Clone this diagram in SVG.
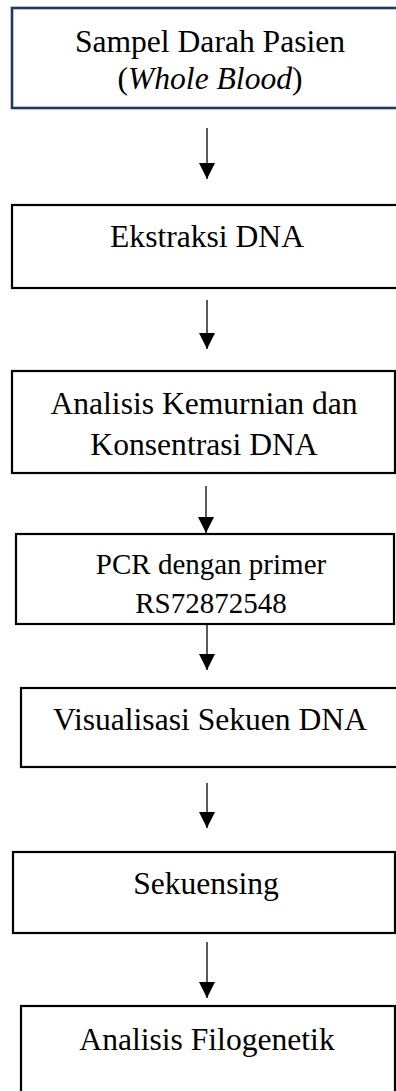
<svg xmlns="http://www.w3.org/2000/svg" width="396" height="1091" viewBox="0 0 396 1091">
  <defs>
    <style>
      .box { fill: #ffffff; stroke: #000000; stroke-width: 2.2; }
      .box-navy { fill: #ffffff; stroke: #1f3864; stroke-width: 2.6; }
      .lbl { font-family: "Liberation Serif", "Times New Roman", serif; font-size: 31.6px; fill: #000000; text-anchor: middle; }
      .lbl-sm { font-size: 29px; }
      .edge { stroke: #000000; stroke-width: 1.3; fill: none; marker-end: url(#head); }
    </style>
    <marker id="head" markerWidth="16" markerHeight="16" refX="16" refY="8" orient="auto" markerUnits="userSpaceOnUse" viewBox="0 0 16 16">
      <path d="M0,0 L16,8 L0,16 Z" fill="#000000"/>
    </marker>
  </defs>

  <rect width="396" height="1091" fill="#ffffff"/>

  <!-- process steps -->
  <g id="node-sampel">
    <rect class="box-navy" x="12" y="8" width="396" height="100"/>
    <text class="lbl" x="210" y="52">Sampel Darah Pasien</text>
    <text class="lbl" x="210" y="89">(<tspan font-style="italic">Whole Blood</tspan>)</text>
  </g>

  <g id="node-ekstraksi">
    <rect class="box" x="12" y="205" width="392" height="83"/>
    <text class="lbl" x="207" y="247">Ekstraksi DNA</text>
  </g>

  <g id="node-kemurnian">
    <rect class="box" x="12" y="371" width="383" height="102"/>
    <text class="lbl" x="204" y="414">Analisis Kemurnian dan</text>
    <text class="lbl" x="204" y="455">Konsentrasi DNA</text>
  </g>

  <g id="node-pcr">
    <rect class="box" x="16" y="534" width="378" height="90"/>
    <text class="lbl lbl-sm" x="211" y="574">PCR dengan primer</text>
    <text class="lbl lbl-sm" x="211" y="613">RS72872548</text>
  </g>

  <g id="node-visualisasi">
    <rect class="box" x="21" y="688" width="380" height="79"/>
    <text class="lbl" x="210" y="730">Visualisasi Sekuen DNA</text>
  </g>

  <g id="node-sekuensing">
    <rect class="box" x="13" y="852" width="382" height="81"/>
    <text class="lbl" x="206" y="894">Sekuensing</text>
  </g>

  <g id="node-filogenetik">
    <rect class="box" x="21" y="1006" width="374" height="95"/>
    <text class="lbl" x="207" y="1050">Analisis Filogenetik</text>
  </g>

  <!-- connectors -->
  <g id="connectors">
    <line class="edge" x1="207" y1="128" x2="207" y2="179"/>
    <line class="edge" x1="207" y1="300" x2="207" y2="349"/>
    <line class="edge" x1="206" y1="486" x2="206" y2="533"/>
    <line class="edge" x1="207" y1="624" x2="207" y2="670"/>
    <line class="edge" x1="207" y1="783" x2="207" y2="828"/>
    <line class="edge" x1="207" y1="942" x2="207" y2="998"/>
  </g>
</svg>
